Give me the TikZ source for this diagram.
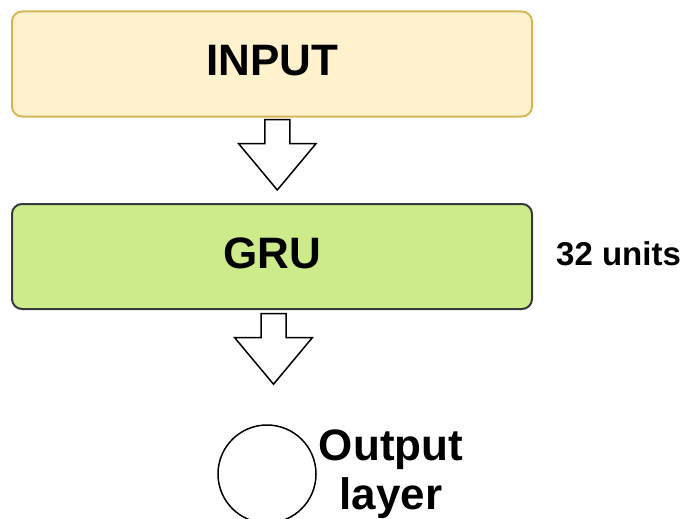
\documentclass[tikz,border=0pt]{standalone}
\usepackage{fontspec}
\setmainfont{Liberation Sans}
\usetikzlibrary{calc}
\definecolor{inpfill}{HTML}{FFF2CC}
\definecolor{inpline}{HTML}{D6B656}
\definecolor{grufill}{HTML}{CDEB8B}
\definecolor{gruline}{HTML}{36393D}
\tikzset{
  layerbox/.style={rectangle, rounded corners=10pt, line width=2pt,
    minimum width=520pt, minimum height=105pt, inner sep=0pt, text depth=7pt,
    font=\fontsize{44}{50}\selectfont\bfseries},
  blockarrow/.pic={
    \draw[line width=1.5pt, fill=white, line join=miter]
      (-12.5,0) -- (12.5,0) -- (12.5,24) -- (38.8,24) -- (0,70.5)
      -- (-38.8,24) -- (-12.5,24) -- cycle;
  },
  unitnode/.style={circle, draw, line width=1.5pt, minimum size=98pt, inner sep=0pt},
  smalllabel/.style={font=\fontsize{33}{40}\selectfont\bfseries, inner sep=0pt},
  biglabel/.style={font=\fontsize{44}{49}\selectfont\bfseries, inner sep=0pt}
}
\begin{document}
\begin{tikzpicture}[x=1pt,y=-1pt]
  \useasboundingbox (0,0) rectangle (688,519);
  % layers
  \node[layerbox, fill=inpfill, draw=inpline] (inp) at (272,64) {INPUT};
  \node[layerbox, fill=grufill, draw=gruline] (gru) at (272,256.5) {GRU};
  \node[smalllabel, anchor=west] (units) at (556,254) {32 units};
  % output neuron
  \node[unitnode] (out) at (267,474) {};
  \node[biglabel, align=center, anchor=north] (outlbl) at (391,430) {Output\\layer};
  % block arrows between the stages
  \coordinate (a1) at ($(inp.south)+(5.3,2)$);
  \coordinate (a2) at ($(gru.south)+(1.5,3.7)$);
  \pic at (a1) {blockarrow};
  \pic at (a2) {blockarrow};
\end{tikzpicture}
\end{document}
